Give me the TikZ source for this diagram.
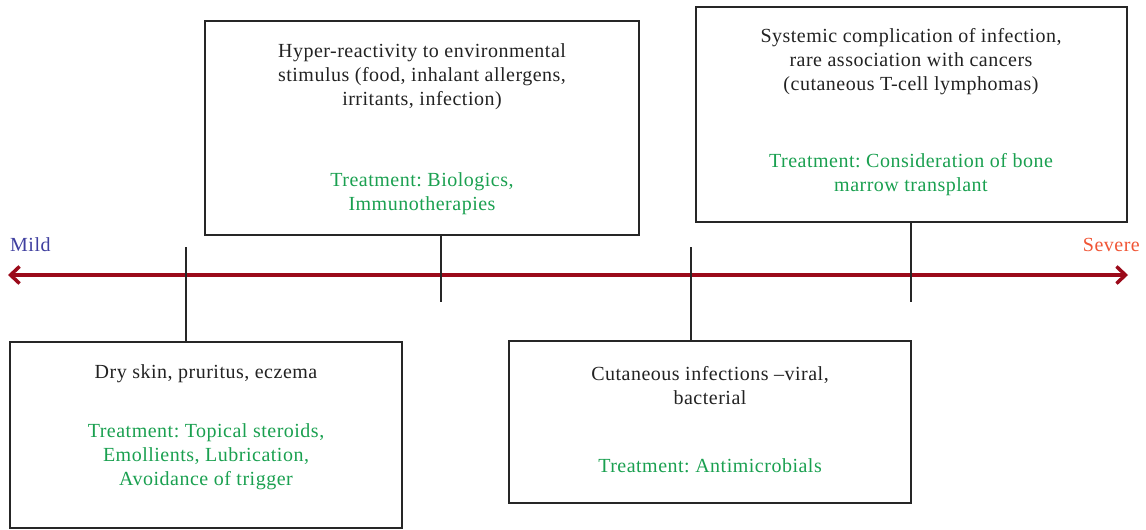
\documentclass[tikz,border=0pt]{standalone}
\usepackage{fontspec}
\setmainfont{Liberation Serif}[LetterSpace=2.5]
\frenchspacing
\usetikzlibrary{arrows.meta}
\definecolor{txt}{HTML}{222222}
\definecolor{grn}{HTML}{1AA050}
\definecolor{axis}{HTML}{9B0A1A}
\definecolor{mildc}{HTML}{3F3F9F}
\definecolor{sevc}{HTML}{F05535}
\begin{document}
\begin{tikzpicture}[x=1pt,y=-1pt,
  box/.style={draw=black!85,line width=2pt,inner sep=0pt},
  fnt/.style={font=\fontsize{20}{24}\selectfont},
  dtext/.style={fnt,text=txt,align=center,inner sep=0pt},
  gtext/.style={fnt,text=grn,align=center,inner sep=0pt},
  tick/.style={draw=black!85,line width=2pt},
  axisline/.style={draw=axis,line width=3.5pt,{Straight Barb[length=9pt,width=17pt,line width=3.5pt]}-{Straight Barb[length=9pt,width=17pt,line width=3.5pt]}}]
\useasboundingbox (0,0) rectangle (1146,530);
% boxes
\node[box,minimum width=434pt,minimum height=214pt] (hyp) at (422,128) {};
\node[box,minimum width=431pt,minimum height=215pt] (sys) at (911.5,114.5) {};
\node[box,minimum width=392pt,minimum height=186pt] (dry) at (206,435) {};
\node[box,minimum width=402pt,minimum height=162pt] (cut) at (710,422) {};
% axis
\coordinate (L) at (8,275);
\coordinate (R) at (1128,275);
\draw[axisline] (L) -- (R);
\node[fnt,text=mildc,anchor=west,inner sep=0pt] (mild) at (10,245) {Mild};
\node[fnt,text=sevc,anchor=east,inner sep=0pt] (sev) at (1140,245) {Severe};
% ticks
\coordinate (t1) at (186,247);
\coordinate (t2) at (441,302);
\coordinate (t3) at (691,247);
\coordinate (t4) at (911,302);
\draw[tick] (t1) -- (dry.north -| t1);
\draw[tick] (hyp.south -| t2) -- (t2);
\draw[tick] (t3) -- (cut.north -| t3);
\draw[tick] (sys.south -| t4) -- (t4);
% texts
\node[dtext] (hypt) at (422,77) {Hyper-reactivity to environmental\\stimulus (food, inhalant allergens,\\irritants, infection)};
\node[gtext] (hypg) at (422,194) {Treatment: Biologics,\\Immunotherapies};
\node[dtext] (syst) at (911,61.5) {Systemic complication of infection,\\rare association with cancers\\(cutaneous T-cell lymphomas)};
\node[gtext] (sysg) at (911,174.5) {Treatment: Consideration of bone\\marrow transplant};
\node[dtext] (dryt) at (206,374) {Dry skin, pruritus, eczema};
\node[gtext] (dryg) at (206,457) {Treatment: Topical steroids,\\Emollients, Lubrication,\\Avoidance of trigger};
\node[dtext] (cutt) at (710,385.5) {Cutaneous infections --viral,\\bacterial};
\node[gtext] (cutg) at (710,466) {Treatment: Antimicrobials};
\end{tikzpicture}
\end{document}
